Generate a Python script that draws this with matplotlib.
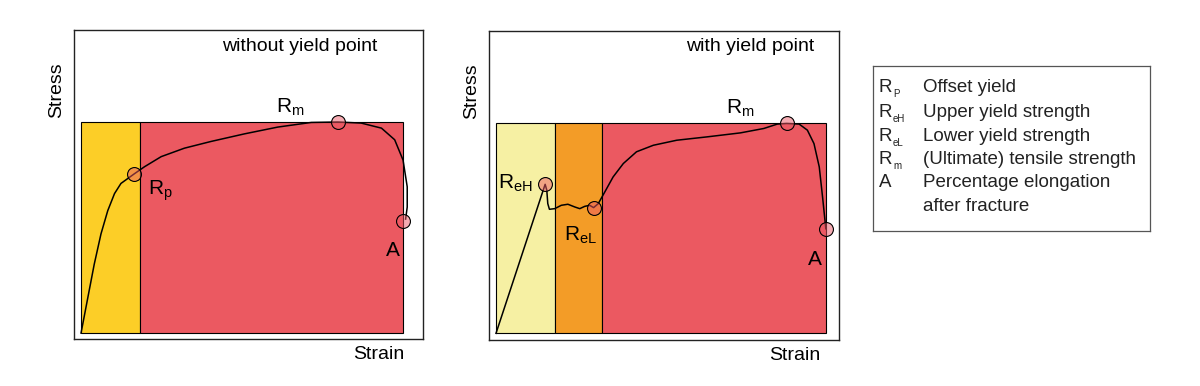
import matplotlib
matplotlib.use("Agg")
import matplotlib.pyplot as plt

plt.rcParams['font.family'] = ['Liberation Sans', 'DejaVu Sans']
plt.rcParams['mathtext.fontset'] = 'custom'
plt.rcParams['mathtext.rm'] = 'Liberation Sans'
plt.rcParams['mathtext.it'] = 'Liberation Sans'

# strain / stress in units of the coloured box (0..1)
left_x = [0, 0.021, 0.041, 0.062, 0.083, 0.104, 0.124, 0.164, 0.197, 0.249,
          0.321, 0.404, 0.508, 0.611, 0.715, 0.797, 0.870, 0.933, 0.974,
          1.000, 1.013, 1.013, 1.008]
left_y = [0, 0.167, 0.326, 0.470, 0.580, 0.661, 0.709, 0.753, 0.788, 0.836,
          0.876, 0.908, 0.944, 0.976, 0.998, 1.000, 0.995, 0.971, 0.916,
          0.820, 0.693, 0.597, 0.540]
left_bands = [0.0, 0.183, 1.0]
left_colors = ['#fcce27', '#eb5961']
left_pts_x = [0.164, 0.797, 1.000]
left_pts_y = [0.753, 1.0, 0.530]

right_x = [0, 0.149, 0.154, 0.157, 0.162, 0.178, 0.198, 0.218, 0.239, 0.254,
           0.269, 0.284, 0.296, 0.310, 0.330, 0.355, 0.386, 0.426, 0.477,
           0.548, 0.640, 0.741, 0.812, 0.853, 0.881, 0.919, 0.944, 0.964,
           0.980, 0.990, 1.000]
right_y = [0, 0.710, 0.682, 0.618, 0.591, 0.594, 0.610, 0.615, 0.602, 0.594,
           0.605, 0.610, 0.599, 0.618, 0.674, 0.745, 0.809, 0.865, 0.896,
           0.920, 0.936, 0.955, 0.976, 0.997, 1.000, 0.997, 0.968, 0.904,
           0.793, 0.650, 0.498]
right_bands = [0.0, 0.180, 0.321, 1.0]
right_colors = ['#f6f0a3', '#f39c27', '#eb5961']
right_pts_x = [0.149, 0.296, 0.881, 1.000]
right_pts_y = [0.710, 0.599, 1.0, 0.498]

legend_syms = ['R', 'R', 'R', 'R', 'A', '']
legend_subs = ['P', 'eH', 'eL', 'm', '', '']
legend_desc = ['Offset yield', 'Upper yield strength', 'Lower yield strength',
               '(Ultimate) tensile strength', 'Percentage elongation',
               'after fracture']


def panel(ax, xs, ys, bands, colors, px, py, xlim, ylim):
    for i in range(len(colors)):
        ax.bar(bands[i], 1.0, width=bands[i + 1] - bands[i], align='edge',
               color=colors[i], edgecolor='black', linewidth=0.8, zorder=1)
    ax.plot(xs, ys, color='black', lw=1.1, zorder=2, solid_joinstyle='round')
    ax.plot(px, py, 'o', ms=10, mfc=(0.93, 0.35, 0.40, 0.5), mec='black',
            mew=0.8, zorder=3, clip_on=False)
    ax.set_xlim(xlim)
    ax.set_ylim(ylim)
    ax.set_xticks([])
    ax.set_yticks([])
    for s in ax.spines.values():
        s.set_linewidth(1.0)
        s.set_color('#222222')
    ax.text(-0.049, 0.806, 'Stress', rotation=90, fontsize=14,
            ha='center', va='center', transform=ax.transAxes)
    ax.text(0.873, -0.05, 'Strain', fontsize=14, ha='center', va='center',
            transform=ax.transAxes)


fig = plt.figure(figsize=(12, 3.86), dpi=100)

ax1 = fig.add_axes([0.0617, 0.1218, 0.2908, 0.8005])
panel(ax1, left_x, left_y, left_bands, left_colors, left_pts_x, left_pts_y,
      (-0.0217, 1.062), (-0.028, 1.436))
ax1.text(0.680, 1.36, 'without yield point', fontsize=14, ha='center', va='center')
ax1.text(0.649, 1.07, r'$\mathrm{R_m}$', fontsize=15, ha='center', va='center')
ax1.text(0.245, 0.675, r'$\mathrm{R_p}$', fontsize=15, ha='center', va='center')
ax1.text(0.969, 0.393, 'A', fontsize=15, ha='center', va='center')

ax2 = fig.add_axes([0.4075, 0.119, 0.2917, 0.8005])
panel(ax2, right_x, right_y, right_bands, right_colors, right_pts_x, right_pts_y,
      (-0.0212, 1.040), (-0.032, 1.44))
ax2.text(0.770, 1.368, 'with yield point', fontsize=14, ha='center', va='center')
ax2.text(0.740, 1.073, r'$\mathrm{R_m}$', fontsize=15, ha='center', va='center')
ax2.text(0.060, 0.716, r'$\mathrm{R_{eH}}$', fontsize=15, ha='center', va='center')
ax2.text(0.255, 0.468, r'$\mathrm{R_{eL}}$', fontsize=15, ha='center', va='center')
ax2.text(0.968, 0.354, 'A', fontsize=15, ha='center', va='center')

# legend box
axl = fig.add_axes([0.7275, 0.4016, 0.2308, 0.4275])
axl.set_xlim(0, 277)
axl.set_ylim(165, 0)
axl.set_xticks([])
axl.set_yticks([])
for s in axl.spines.values():
    s.set_linewidth(0.9)
    s.set_color('#555555')
row_y = [22, 47, 71, 94, 117, 141]
for i in range(len(legend_desc)):
    axl.text(6, row_y[i], legend_syms[i], fontsize=13.5, ha='left', va='center',
             color='#222222')
    axl.text(20, row_y[i] + 6, legend_subs[i], fontsize=7, ha='left', va='center',
             color='#222222')
    axl.text(50, row_y[i], legend_desc[i], fontsize=13.5, ha='left',
             va='center', color='#222222')

fig.savefig('out.png', dpi=100)
